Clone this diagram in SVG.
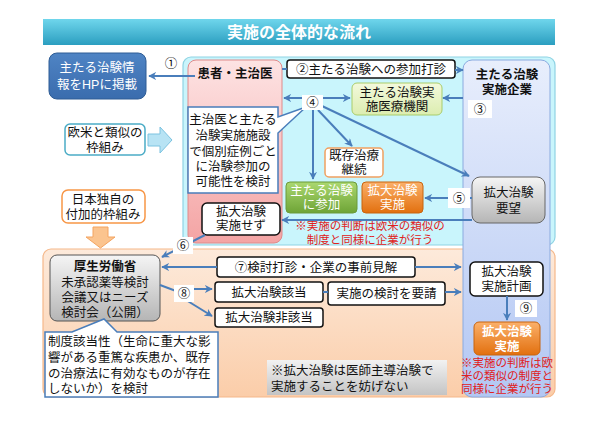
<svg xmlns="http://www.w3.org/2000/svg" width="600" height="424" viewBox="0 0 600 424">
<defs>
<linearGradient id="gTitle" x1="0" y1="0" x2="0" y2="1"><stop offset="0" stop-color="#6fd6ec"/><stop offset="1" stop-color="#2b9ec0"/></linearGradient>
<linearGradient id="gPink" x1="0" y1="0" x2="0" y2="1"><stop offset="0" stop-color="#fde3e3"/><stop offset="1" stop-color="#f4a4a4"/></linearGradient>
<linearGradient id="gLav" x1="0" y1="0" x2="0" y2="1"><stop offset="0" stop-color="#e8eefc"/><stop offset="1" stop-color="#b3c7f3"/></linearGradient>
<linearGradient id="gGray" x1="0" y1="0" x2="0" y2="1"><stop offset="0" stop-color="#f5f5f5"/><stop offset="1" stop-color="#b5b5b5"/></linearGradient>
<linearGradient id="gOrange" x1="0" y1="0" x2="0" y2="1"><stop offset="0" stop-color="#fbb06a"/><stop offset="1" stop-color="#e2700f"/></linearGradient>
<linearGradient id="gGreen" x1="0" y1="0" x2="0" y2="1"><stop offset="0" stop-color="#abd870"/><stop offset="1" stop-color="#6ea436"/></linearGradient>
<linearGradient id="gPeach" x1="0" y1="0" x2="0" y2="1"><stop offset="0" stop-color="#fdeadb"/><stop offset="1" stop-color="#fbcda9"/></linearGradient>
<linearGradient id="gLime" x1="0" y1="0" x2="0" y2="1"><stop offset="0" stop-color="#f3f9dc"/><stop offset="1" stop-color="#dcedb0"/></linearGradient>
<linearGradient id="gNote" x1="0" y1="0" x2="0" y2="1"><stop offset="0" stop-color="#f2f2f2"/><stop offset="1" stop-color="#c4c4c4"/></linearGradient>
<linearGradient id="gBlue" x1="0" y1="0" x2="0" y2="1"><stop offset="0" stop-color="#4f84c4"/><stop offset="1" stop-color="#3a6cad"/></linearGradient>
<marker id="ah" viewBox="0 0 10 10" refX="9" refY="5" markerWidth="4" markerHeight="4" orient="auto-start-reverse" markerUnits="strokeWidth"><path d="M0,0 L10,5 L0,10 L3,5 Z" fill="#4a7ebb"/></marker>
</defs>
<style>
text{font-family:"Liberation Sans","Noto Sans CJK JP",sans-serif;font-size:12.5px;fill:#111;text-anchor:middle}
.b{font-weight:bold}
.w{fill:#fff;font-weight:bold}
.red{fill:#e02020;font-size:11.5px}
.l{text-anchor:start}
.con line,.con path{stroke:#4a7ebb;stroke-width:2;fill:none}
.lbl{fill:#fff}
.wb{fill:#fff;stroke:#111;stroke-width:1.5}
</style>
<rect width="600" height="424" fill="#fff"/>

<g id="title">
<rect x="43" y="19" width="512" height="26" fill="url(#gTitle)"/>
<text x="299" y="38" class="w" style="font-size:16px">実施の全体的な流れ</text>
</g>

<g id="region-cyan"><rect x="183" y="57" width="372" height="188" rx="8" fill="#c9f5fc" stroke="#8fd3e3" stroke-width="1.2"/></g>
<g id="region-peach"><rect x="43" y="249" width="512" height="148" rx="8" fill="url(#gPeach)" stroke="#f5b88a" stroke-width="1.2"/></g>
<g id="company"><rect x="463" y="60" width="87" height="337" rx="9" fill="url(#gLav)" stroke="#8aaadf" stroke-width="1"/>
<text x="507" y="79" class="b">主たる治験</text><text x="507" y="94" class="b">実施企業</text></g>
<g id="patient"><rect x="188" y="60" width="94" height="183" rx="8" fill="url(#gPink)" stroke="#e08a8a" stroke-width="1"/>
<text x="235" y="78" class="b">患者・主治医</text></g>

<g id="hp"><rect x="49" y="53" width="97" height="46" rx="8" fill="url(#gBlue)" stroke="#2f5d95" stroke-width="1"/>
<text x="97" y="72" class="w" style="font-weight:normal">主たる治験情</text><text x="97" y="89" class="w" style="font-weight:normal">報をHPに掲載</text></g>

<g id="western"><rect x="65" y="124" width="80" height="31" rx="5" fill="#fff" stroke="#4bacc6" stroke-width="1.5"/>
<text x="105" y="137">欧米と類似の</text><text x="105" y="152">枠組み</text></g>
<g id="arrow-western"><path d="M148,134 L160,134 L160,127 L172,140 L160,153 L160,146 L148,146 Z" fill="#b7e3f4" stroke="#7cc3e0" stroke-width="1"/></g>

<g id="japan"><rect x="62" y="190" width="83" height="33" rx="6" fill="#fff" stroke="#f79646" stroke-width="1.5"/>
<text x="103" y="204">日本独自の</text><text x="103" y="219">付加的枠組み</text></g>
<g id="arrow-japan"><path d="M93,227 L108,227 L108,237 L115,237 L100.5,248 L86,237 L93,237 Z" fill="#fbc48f" stroke="#f4a460" stroke-width="1"/></g>

<g id="consider"><path d="M188,107 H278 V117 L306,107 L278,133 V193 H188 Z" fill="#fff" stroke="#4a7ebb" stroke-width="1.5"/>
<text x="233" y="124">主治医と主たる</text><text x="233" y="140">治験実施施設</text><text x="233" y="156">で個別症例ごと</text><text x="233" y="171">に治験参加の</text><text x="233" y="186">可能性を検討</text></g>

<g id="offer"><rect x="287" y="60" width="168" height="18" rx="3" class="wb"/>
<text x="371" y="74">②主たる治験への参加打診</text></g>

<g id="site"><rect x="352" y="83" width="90" height="32" rx="5" fill="url(#gLime)" stroke="#a9cd6b" stroke-width="1"/>
<text x="397" y="97">主たる治験実</text><text x="397" y="111">施医療機関</text></g>

<g id="existing"><rect x="325" y="148" width="58" height="29" rx="4" fill="#fff" stroke="#f0a060" stroke-width="1.5"/>
<text x="354" y="160">既存治療</text><text x="354" y="174">継続</text></g>

<g id="join"><rect x="286" y="182" width="71" height="31" rx="4" fill="url(#gGreen)" stroke="#6b9a3a" stroke-width="1"/>
<text x="321.5" y="195" class="w" style="font-weight:normal">主たる治験</text><text x="321.5" y="209" class="w" style="font-weight:normal">に参加</text></g>

<g id="expand1"><rect x="362" y="182" width="61" height="31" rx="4" fill="url(#gOrange)" stroke="#c8650f" stroke-width="1"/>
<text x="392.5" y="195" class="w" style="font-weight:normal">拡大治験</text><text x="392.5" y="209" class="w" style="font-weight:normal">実施</text></g>

<g id="request"><rect x="472" y="177" width="73" height="46" rx="8" fill="url(#gGray)" stroke="#666" stroke-width="1"/>
<text x="508.5" y="197">拡大治験</text><text x="508.5" y="213">要望</text></g>

<g id="noexpand"><rect x="202" y="203" width="78" height="32" rx="5" class="wb"/>
<text x="241" y="216">拡大治験</text><text x="241" y="230">実施せず</text></g>

<g id="note-red1"><text x="370" y="230" class="red">※実施の判断は欧米の類似の</text><text x="370" y="244" class="red">制度と同様に企業が行う</text></g>

<g id="mhlw"><rect x="50" y="255" width="110" height="66" rx="7" fill="url(#gGray)" stroke="#555" stroke-width="1"/>
<text x="105" y="271" class="b">厚生労働省</text><text x="105" y="287">未承認薬等検討</text><text x="105" y="302">会議又はニーズ</text><text x="105" y="317">検討会（公開）</text></g>

<g id="criteria"><path d="M45,332 H72 L104,319 L117,332 H218 V397 H45 Z" fill="#fff" stroke="#4a7ebb" stroke-width="1.5"/>
<text x="48" y="346" class="l">制度該当性（生命に重大な影</text><text x="48" y="362" class="l">響がある重篤な疾患か、既存</text><text x="48" y="378" class="l">の治療法に有効なものが存在</text><text x="48" y="393" class="l">しないか）を検討</text></g>

<g id="prior"><rect x="217" y="257" width="198" height="20" rx="3" class="wb"/>
<text x="316" y="272">⑦検討打診・企業の事前見解</text></g>

<g id="applicable"><rect x="215" y="282" width="108" height="20" rx="3" class="wb"/>
<text x="269" y="297">拡大治験該当</text></g>
<g id="nonapplicable"><rect x="215" y="308" width="108" height="19" rx="3" class="wb"/>
<text x="269" y="322">拡大治験非該当</text></g>
<g id="ask"><rect x="328" y="282" width="117" height="23" rx="3" class="wb"/>
<text x="386.5" y="298">実施の検討を要請</text></g>

<g id="plan"><rect x="470" y="262" width="73" height="34" rx="5" class="wb"/>
<text x="506.5" y="276">拡大治験</text><text x="506.5" y="291">実施計画</text></g>

<g id="expand2"><rect x="474" y="322" width="66" height="33" rx="5" fill="url(#gOrange)" stroke="#c8650f" stroke-width="1"/>
<text x="507" y="336" class="w">拡大治験</text><text x="507" y="351" class="w">実施</text></g>

<g id="note-red2"><text x="507" y="367" class="red">※実施の判断は欧</text><text x="507" y="380" class="red">米の類似の制度と</text><text x="507" y="393" class="red">同様に企業が行う</text></g>

<g id="note-gray"><rect x="267" y="360" width="180" height="35" fill="url(#gNote)"/>
<text x="271" y="375" class="l">※拡大治験は医師主導治験で</text><text x="271" y="391" class="l">実施することを妨げない</text></g>

<g id="connectors" class="con">
<line x1="195" y1="76" x2="149" y2="76" marker-end="url(#ah)"/>
<line x1="282" y1="69" x2="287" y2="69"/>
<line x1="455" y1="70" x2="463" y2="70" marker-end="url(#ah)"/>
<line x1="463" y1="98" x2="443" y2="98" marker-end="url(#ah)"/>
<line x1="303" y1="98" x2="284" y2="98" marker-end="url(#ah)"/>
<line x1="322" y1="98" x2="350" y2="98" marker-end="url(#ah)"/>
<line x1="313" y1="110" x2="313" y2="179" marker-end="url(#ah)"/>
<line x1="318" y1="110" x2="352" y2="146" marker-end="url(#ah)"/>
<line x1="322" y1="106" x2="469" y2="176" marker-end="url(#ah)"/>
<line x1="472" y1="198" x2="425" y2="198" marker-end="url(#ah)"/>
<line x1="472" y1="220" x2="282" y2="220" marker-end="url(#ah)"/>
<line x1="205" y1="235" x2="162" y2="257" marker-end="url(#ah)"/>
<line x1="217" y1="267" x2="162" y2="267" marker-end="url(#ah)"/>
<line x1="415" y1="267" x2="461" y2="267" marker-end="url(#ah)"/>
<path d="M160,285 L176,291"/>
<line x1="192" y1="289" x2="212" y2="289" marker-end="url(#ah)"/>
<line x1="186" y1="300" x2="212" y2="316" marker-end="url(#ah)"/>
<line x1="323" y1="292" x2="328" y2="292"/>
<line x1="445" y1="292" x2="461" y2="292" marker-end="url(#ah)"/>
<line x1="507" y1="296" x2="507" y2="320" marker-end="url(#ah)"/>
</g>

<g id="labels">
<rect x="163" y="55" width="16" height="17" class="lbl"/><text x="171" y="68">①</text>
<rect x="468" y="100" width="24" height="18" class="lbl"/><text x="480" y="114">③</text>
<rect x="302" y="95" width="21" height="15" class="lbl"/><text x="312.5" y="107">④</text>
<rect x="448" y="188" width="22" height="20" class="lbl"/><text x="459" y="203">⑤</text>
<rect x="173" y="237" width="20" height="17" class="lbl"/><text x="183" y="250">⑥</text>
<rect x="174" y="285" width="20" height="17" class="lbl"/><text x="184" y="298">⑧</text>
<rect x="515" y="300" width="22" height="17" class="lbl"/><text x="526" y="313">⑨</text>
</g>
</svg>
